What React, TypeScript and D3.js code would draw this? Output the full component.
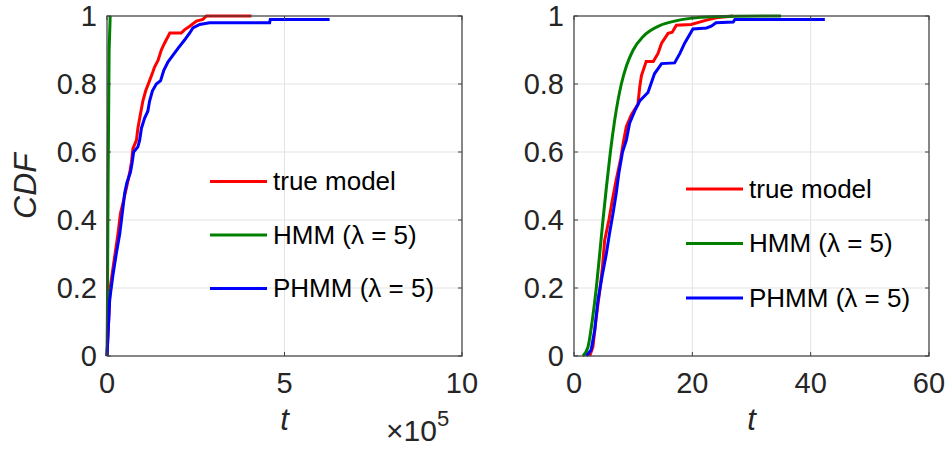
import * as d3 from 'd3';

// ── Data ──────────────────────────────────────────────────────────────────────
const Y_TICKS = [0, 0.2, 0.4, 0.6, 0.8, 1];
const LEFT_X_TICKS = [0, 5, 10];
const RIGHT_X_TICKS = [0, 20, 40, 60];
const SERIES_LABELS = ['true model', 'HMM (λ = 5)', 'PHMM (λ = 5)'];

// left panel, t in units of 1e5
const LEFT_TRUE: [number, number][] = [
  [0, 0], [0.09, 0.2], [0.17, 0.26], [0.31, 0.36], [0.38, 0.42], [0.45, 0.45],
  [0.56, 0.5], [0.64, 0.54], [0.69, 0.57], [0.73, 0.61], [0.83, 0.635], [0.87, 0.67],
  [0.94, 0.71], [1.01, 0.75], [1.09, 0.78], [1.2, 0.81], [1.29, 0.835], [1.34, 0.85],
  [1.44, 0.87], [1.53, 0.9], [1.62, 0.92], [1.77, 0.95], [2.09, 0.95], [2.19, 0.96],
  [2.33, 0.97], [2.52, 0.985], [2.7, 0.99], [2.8, 1.0], [4.07, 1.0],
];
const LEFT_HMM: [number, number][] = [
  [0, 0], [0.01, 0.1], [0.03, 0.5], [0.06, 0.9], [0.09, 1.0],
];
const LEFT_PHMM: [number, number][] = [
  [0, 0], [0.075, 0.165], [0.17, 0.24], [0.26, 0.3], [0.36, 0.36], [0.43, 0.42],
  [0.5, 0.48], [0.56, 0.51], [0.66, 0.54], [0.71, 0.57], [0.75, 0.6], [0.87, 0.615],
  [0.92, 0.635], [0.97, 0.67], [1.06, 0.7], [1.15, 0.72], [1.2, 0.75], [1.28, 0.78],
  [1.39, 0.8], [1.51, 0.81], [1.6, 0.84], [1.72, 0.865], [1.86, 0.885], [2.0, 0.905],
  [2.19, 0.93], [2.33, 0.95], [2.42, 0.965], [2.61, 0.975], [2.89, 0.98], [4.58, 0.98],
  [4.6, 0.99], [6.27, 0.99],
];

// right panel
const RIGHT_TRUE: [number, number][] = [
  [2.65, 0], [3.2, 0.027], [3.77, 0.115], [4.34, 0.19], [4.8, 0.26], [5.18, 0.34],
  [5.9, 0.4], [6.5, 0.46], [7.15, 0.52], [7.9, 0.58], [8.3, 0.625], [8.85, 0.675],
  [9.7, 0.71], [10.8, 0.74], [11.1, 0.79], [11.4, 0.825], [12.2, 0.866], [13.4, 0.866],
  [14.2, 0.89], [14.8, 0.92], [15.9, 0.949], [16.6, 0.952], [17.3, 0.973], [19.8, 0.975],
  [21.2, 0.982], [22.4, 0.988], [24.0, 0.995], [26.9, 1.0],
];
const RIGHT_HMM: [number, number][] = [
  [1.5, 0], [2.37, 0.027], [3.1, 0.106], [3.77, 0.2], [4.34, 0.3], [4.9, 0.4],
  [5.5, 0.5], [6.15, 0.6], [6.88, 0.694], [8.0, 0.8], [8.9, 0.855], [10.0, 0.9],
  [11.7, 0.94], [14.5, 0.972], [17.0, 0.985], [19.6, 0.993], [23.5, 0.998], [35, 1.0],
];
const RIGHT_PHMM: [number, number][] = [
  [2.1, 0], [2.9, 0.018], [3.5, 0.076], [4.06, 0.165], [4.8, 0.24], [5.46, 0.3],
  [6.0, 0.36], [6.6, 0.42], [7.15, 0.48], [7.6, 0.54], [8.2, 0.6], [8.85, 0.635],
  [9.4, 0.685], [10.25, 0.72], [11.1, 0.75], [12.5, 0.775], [13.6, 0.83], [14.8, 0.86],
  [17.0, 0.862], [17.9, 0.89], [18.7, 0.92], [20.1, 0.962], [22.4, 0.965], [23.2, 0.97],
  [24.0, 0.98], [26.9, 0.982], [27.2, 0.99], [42.4, 0.99],
];

// ── Style ────────────────────────────────────────────────────────────────────
const W = 951;
const H = 451;
const FONT = '"Liberation Sans", Arial, Helvetica, sans-serif';
const TXT = '#262626';
const FRAME = '#404040';
const GRID = '#e3e3e3';
const COLORS = ['#ff0000', '#008000', '#0000ff'];
const Y_TOP = 16;
const Y_BOT = 356;

type PanelProps = {
  x0: number;
  x1: number;
  domain: [number, number];
  xTicks: number[];
  series: [number, number][][];
  smooth: boolean[];
  legend: { x: number; y: number; gap: number };
};

function Panel({ x0, x1, domain, xTicks, series, smooth, legend }: PanelProps) {
  const x = d3.scaleLinear().domain(domain).range([x0, x1]);
  const y = d3.scaleLinear().domain([0, 1]).range([Y_BOT, Y_TOP]);
  const TL = 4;

  return (
    <g>
      {/* grid */}
      {xTicks.map(t => (
        <line key={'gx' + t} x1={x(t)} x2={x(t)} y1={Y_TOP} y2={Y_BOT} stroke={GRID} strokeWidth={1} />
      ))}
      {Y_TICKS.map(t => (
        <line key={'gy' + t} x1={x0} x2={x1} y1={y(t)} y2={y(t)} stroke={GRID} strokeWidth={1} />
      ))}

      {/* curves */}
      {series.map((pts, i) => {
        const line = d3.line<[number, number]>()
          .x(d => x(d[0]))
          .y(d => y(d[1]))
          .curve(smooth[i] ? d3.curveMonotoneX : d3.curveLinear);
        return (
          <path key={i} d={line(pts) ?? ''} fill="none" stroke={COLORS[i]}
            strokeWidth={3} strokeLinejoin="miter" />
        );
      })}

      {/* frame + inward ticks */}
      <rect x={x0} y={Y_TOP} width={x1 - x0} height={Y_BOT - Y_TOP} fill="none" stroke={FRAME} strokeWidth={1.2} />
      {xTicks.map(t => (
        <g key={'tx' + t}>
          <line x1={x(t)} x2={x(t)} y1={Y_BOT} y2={Y_BOT - TL} stroke={FRAME} />
          <line x1={x(t)} x2={x(t)} y1={Y_TOP} y2={Y_TOP + TL} stroke={FRAME} />
          <text x={x(t)} y={393} textAnchor="middle" fontSize={29} fill={TXT} fontFamily={FONT}>{t}</text>
        </g>
      ))}
      {Y_TICKS.map(t => (
        <g key={'ty' + t}>
          <line x1={x0} x2={x0 + TL} y1={y(t)} y2={y(t)} stroke={FRAME} />
          <line x1={x1} x2={x1 - TL} y1={y(t)} y2={y(t)} stroke={FRAME} />
          <text x={x0 - 10} y={y(t)} dy="0.36em" textAnchor="end" fontSize={29} fill={TXT} fontFamily={FONT}>{t}</text>
        </g>
      ))}

      {/* x label */}
      <text x={(x0 + x1) / 2} y={430} textAnchor="middle" fontSize={31} fontStyle="italic" fill={TXT} fontFamily={FONT}>t</text>

      {/* legend */}
      {SERIES_LABELS.map((lab, i) => {
        const ly = legend.y + i * legend.gap;
        return (
          <g key={lab}>
            <line x1={legend.x} x2={legend.x + 57} y1={ly} y2={ly} stroke={COLORS[i]} strokeWidth={3} />
            <text x={legend.x + 63} y={ly + 8.5} fontSize={26} fill="#000" fontFamily={FONT}>{lab}</text>
          </g>
        );
      })}
    </g>
  );
}

export default function App() {
  return (
    <svg width={W} height={H} viewBox={`0 0 ${W} ${H}`}
      style={{ position: 'absolute', left: 0, top: 0, background: '#fff' }}>
      <rect width={W} height={H} fill="#fff" />
      <Panel
        x0={107} x1={462} domain={[0, 10]} xTicks={LEFT_X_TICKS}
        series={[LEFT_TRUE, LEFT_HMM, LEFT_PHMM]} smooth={[false, false, false]}
        legend={{ x: 210, y: 181.5, gap: 53.5 }}
      />
      <Panel
        x0={574} x1={929} domain={[0, 60]} xTicks={RIGHT_X_TICKS}
        series={[RIGHT_TRUE, RIGHT_HMM, RIGHT_PHMM]} smooth={[false, true, false]}
        legend={{ x: 686, y: 189, gap: 54.5 }}
      />

      {/* y label */}
      <text transform="translate(36,186) rotate(-90)" textAnchor="middle" fontSize={32}
        fontStyle="italic" fill={TXT} fontFamily={FONT}>CDF</text>

      {/* exponent */}
      <text x={386} y={441} fontSize={30} fill={TXT} fontFamily={FONT}>
        ×10<tspan fontSize={22} dy={-15}>5</tspan>
      </text>
    </svg>
  );
}
